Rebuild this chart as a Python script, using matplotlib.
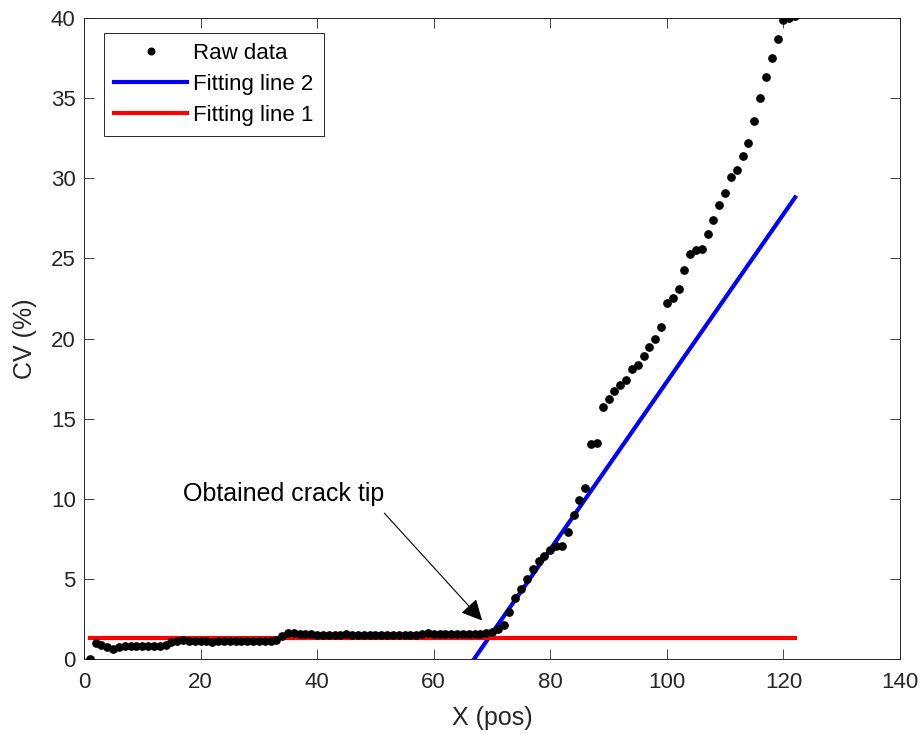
import numpy as np
import matplotlib
matplotlib.use("Agg")
import matplotlib.pyplot as plt

plt.rcParams['font.family'] = ['Liberation Sans', 'DejaVu Sans']

# CV profile along the specimen (position index 1..122)
pos = np.arange(1, 123)
cv = [0.0, 1.0, 0.9, 0.75, 0.65, 0.75, 0.8, 0.8, 0.8, 0.8,
      0.8, 0.8, 0.82, 0.9, 1.05, 1.15, 1.2, 1.15, 1.15, 1.1,
      1.1, 1.05, 1.15, 1.15, 1.15, 1.15, 1.15, 1.15, 1.15, 1.1,
      1.1, 1.1, 1.2, 1.45, 1.6, 1.6, 1.55, 1.55, 1.55, 1.5,
      1.5, 1.5, 1.5, 1.5, 1.55, 1.5, 1.5, 1.5, 1.5, 1.5,
      1.5, 1.5, 1.5, 1.5, 1.5, 1.5, 1.5, 1.55, 1.6, 1.55,
      1.55, 1.55, 1.55, 1.55, 1.55, 1.55, 1.55, 1.55, 1.6, 1.7,
      1.85, 2.1, 2.95, 3.8, 4.35, 5.0, 5.6, 6.1, 6.45, 6.8,
      7.05, 7.05, 7.9, 9.0, 9.9, 10.7, 13.4, 13.5, 15.7, 16.2,
      16.7, 17.1, 17.4, 18.1, 18.35, 18.9, 19.5, 20.0, 20.7, 22.2,
      22.5, 23.1, 24.25, 25.3, 25.5, 25.6, 26.5, 27.4, 28.3, 29.1,
      30.1, 30.5, 31.4, 32.2, 33.6, 35.0, 36.3, 37.5, 38.7, 39.9,
      40.0, 40.1]

# fitting line 1: constant level
fit1_level = 1.3
fit1_x = [1, 122]

# fitting line 2: linear fit of the rising part
fit2_slope = 0.523
fit2_intercept = -35.0
fit2_x = np.array([66.9, 122])

tip_x, tip_y = 68.3, 2.4
label_x, label_y = 17.0, 10.3

fig = plt.figure(figsize=(9.21, 7.35), dpi=100)
ax = fig.add_axes([0.0912, 0.1034, 0.886, 0.8721])

ax.plot(pos, cv, 'k.', ms=10.5, label='Raw data', zorder=3)
ax.plot(fit2_x, fit2_slope * fit2_x + fit2_intercept, color='b', lw=3,
        label='Fitting line 2', zorder=2)
ax.plot(fit1_x, [fit1_level, fit1_level], color='r', lw=3,
        label='Fitting line 1', zorder=2)

ax.annotate('Obtained crack tip', xy=(tip_x, tip_y), xytext=(label_x, label_y),
            fontsize=18, color='k', va='center', ha='left',
            arrowprops=dict(arrowstyle='-|>', color='k', lw=0.8,
                            mutation_scale=32, shrinkA=0, shrinkB=0,
                            relpos=(1.0, -0.3)))

ax.set_xlim(0, 140)
ax.set_ylim(0, 40)
ax.set_xticks(np.arange(0, 141, 20))
ax.set_yticks(np.arange(0, 41, 5))
ax.set_xlabel('X (pos)', fontsize=18, color='0.15', labelpad=10)
ax.set_ylabel('CV (%)', fontsize=18, color='0.15', labelpad=10)
ax.tick_params(direction='in', length=7, width=0.6, colors='0.15',
               labelsize=16, top=True, right=True)
ax.tick_params(axis='x', pad=9)
ax.tick_params(axis='y', pad=6)
for sp in ax.spines.values():
    sp.set_color('0.15')
    sp.set_linewidth(0.7)

leg = ax.legend(loc='upper left', bbox_to_anchor=(0.0245, 0.9766),
                borderaxespad=0, fontsize=16, fancybox=False, framealpha=1,
                edgecolor='0.15', handlelength=3.3, labelspacing=0.45,
                borderpad=0.45, handletextpad=0.27, markerscale=0.9)
leg.get_frame().set_linewidth(0.7)

fig.savefig('out.png', dpi=100)
